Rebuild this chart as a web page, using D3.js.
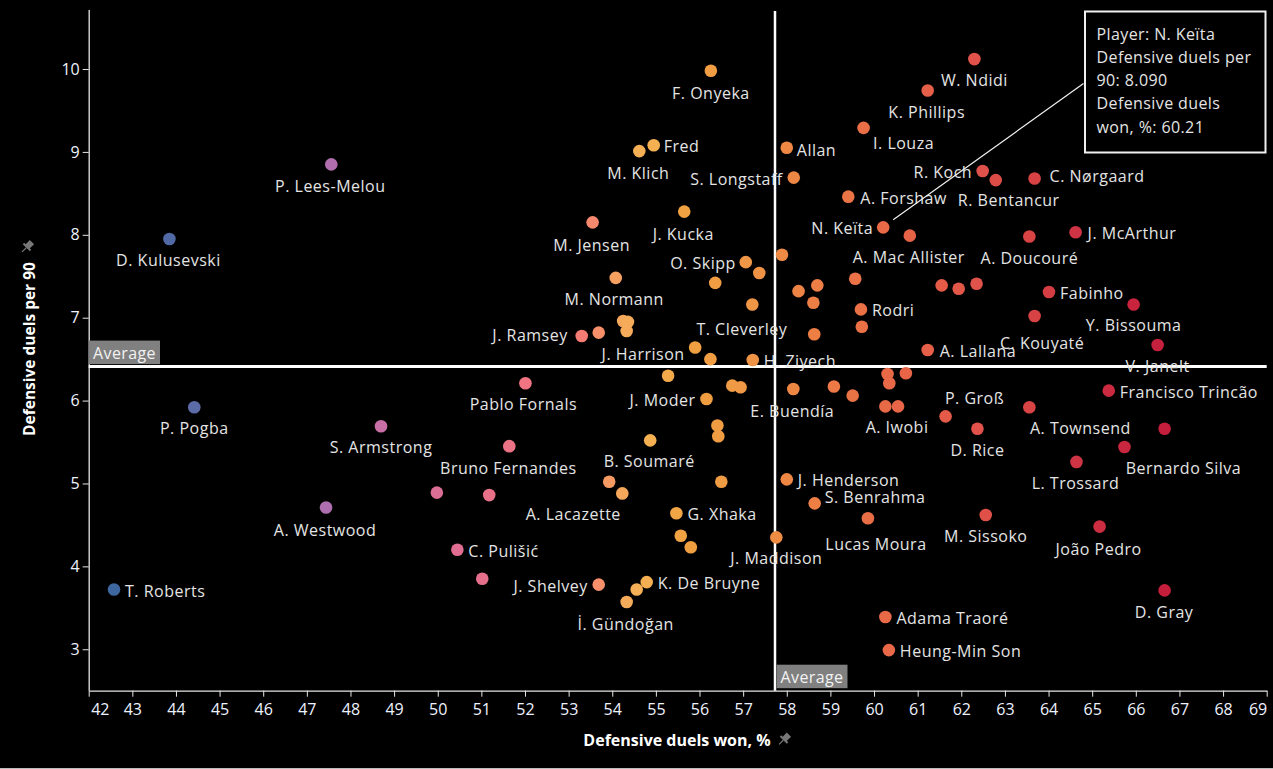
<!DOCTYPE html>
<html>
<head>
<meta charset="utf-8">
<script src="https://cdn.jsdelivr.net/npm/d3@7"></script>
<style>
  html, body { margin: 0; padding: 0; background: #000; }
  svg { display: block; }
</style>
</head>
<body>
<svg id="chart" width="1273" height="769"></svg>
<script>
// ---------------- DATA ----------------
const playerLabels = [
  "D. Kulusevski", "P. Lees-Melou", "P. Pogba", "S. Armstrong", "A. Westwood", "T. Roberts",
  "Pablo Fornals", "", "", "", "J. Moder", "E. Buendía", "", "", "", "",
  "B. Soumaré", "Bruno Fernandes", "", "A. Lacazette", "", "J. Henderson", "S. Benrahma", "", "",
  "G. Xhaka", "", "", "J. Maddison", "C. Pulišić", "", "J. Shelvey", "K. De Bruyne", "", "İ. Gündoğan",
  "F. Onyeka", "Fred", "M. Klich", "Allan", "S. Longstaff", "A. Forshaw", "J. Kucka", "M. Jensen",
  "", "O. Skipp", "", "M. Normann", "", "", "", "", "T. Cleverley", "", "", "", "J. Ramsey", "", "",
  "J. Harrison", "", "H. Ziyech",
  "W. Ndidi", "K. Phillips", "I. Louza", "R. Koch", "R. Bentancur", "C. Nørgaard", "N. Keïta",
  "A. Mac Allister", "A. Doucouré", "J. McArthur", "", "", "", "", "Fabinho", "Y. Bissouma", "Rodri", "",
  "C. Kouyaté", "A. Lallana", "V. Janelt", "", "", "", "", "A. Iwobi", "P. Groß", "D. Rice", "A. Townsend",
  "Francisco Trincão", "", "Bernardo Silva", "L. Trossard", "Lucas Moura", "M. Sissoko", "João Pedro",
  "D. Gray", "Adama Traoré", "Heung-Min Son"
];
const duelsWonPct = [
  43.85, 47.56, 44.42, 48.70, 47.44, 42.58,
  52.01, 55.28, 56.75, 56.94, 56.16, 58.15, 59.08, 59.51, 56.41, 56.43,
  54.87, 51.64, 53.93, 54.23, 56.50, 58.00, 58.64, 49.98, 51.18,
  55.47, 55.57, 55.80, 57.76, 50.45, 51.02, 53.69, 54.79, 54.56, 54.33,
  56.26, 54.95, 54.62, 58.00, 58.16, 59.41, 55.65, 53.55,
  57.89, 57.06, 57.37, 54.08, 56.36, 58.70, 58.27, 58.61, 57.21, 54.25, 54.36, 54.33, 53.30, 53.69, 58.63,
  55.90, 56.25, 57.22,
  62.30, 61.23, 59.76, 62.49, 62.79, 63.68, 60.21,
  60.82, 63.56, 64.62, 59.57, 61.55, 61.94, 62.35, 64.01, 65.95, 59.70, 59.72,
  63.68, 61.23, 66.50, 60.31, 60.73, 60.35, 60.26, 60.55, 61.64, 62.37, 63.56,
  65.38, 66.66, 65.74, 64.64, 59.86, 62.56, 65.17,
  66.66, 60.26, 60.34
];
const duelsPer90 = [
  7.95, 8.85, 5.92, 5.69, 4.71, 3.72,
  6.21, 6.30, 6.18, 6.16, 6.02, 6.14, 6.17, 6.06, 5.70, 5.57,
  5.52, 5.45, 5.02, 4.88, 5.02, 5.05, 4.76, 4.89, 4.86,
  4.64, 4.37, 4.23, 4.35, 4.20, 3.85, 3.78, 3.81, 3.72, 3.57,
  9.98, 9.08, 9.01, 9.05, 8.69, 8.46, 8.28, 8.15,
  7.76, 7.67, 7.54, 7.48, 7.42, 7.39, 7.32, 7.18, 7.16, 6.96, 6.95, 6.84, 6.78, 6.82, 6.80,
  6.64, 6.50, 6.49,
  10.12, 9.74, 9.29, 8.77, 8.66, 8.68, 8.090,
  7.99, 7.98, 8.03, 7.47, 7.39, 7.35, 7.41, 7.31, 7.16, 7.10, 6.89,
  7.02, 6.61, 6.67, 6.32, 6.33, 6.21, 5.93, 5.93, 5.81, 5.66, 5.92,
  6.12, 5.66, 5.44, 5.26, 4.58, 4.62, 4.48,
  3.71, 3.39, 2.99
];
const xTicks = [42,43,44,45,46,47,48,49,50,51,52,53,54,55,56,57,58,59,60,61,62,63,64,65,66,67,68,69];
const yTicks = [3,4,5,6,7,8,9,10];
const avgDuelsWon = 57.73;
const avgDuelsPer90 = 6.41;
const highlighted = "N. Keïta";
const xTitle = "Defensive duels won, %";
const yTitle = "Defensive duels per 90";
const avgText = "Average";

// colour stops (by defensive duels won %)
const colorStops = [42.5, 44.5, 47.5, 48.7, 50.4, 52.0, 53.3, 53.7, 54.4, 55.0, 55.7, 57.0, 58.0, 59.0, 60.0, 61.3, 62.4, 63.6, 64.6, 65.9, 66.7];
const colorValues = ["#3d67a0", "#5b6ba8", "#b06eb0", "#c870a6", "#e06e90", "#f07482", "#f47c74", "#f7906a", "#f5ae58", "#f5b050", "#f0a040", "#ef9846", "#ee8844", "#ec7a46", "#e96c46", "#e65e48", "#e0524a", "#d84444", "#cf3444", "#c8243e", "#c41e3c"];

// label placement relative to each point: [anchor, dx, dy]
const labelPlacement = {
  "D. Kulusevski": ["m", -1, 21], "P. Lees-Melou": ["m", -1, 22], "P. Pogba": ["m", 0, 21],
  "S. Armstrong": ["m", 0, 21], "A. Westwood": ["m", -1, 22], "T. Roberts": ["s", 11, 1],
  "Pablo Fornals": ["m", -2, 21], "J. Moder": ["e", -11, 1], "E. Buendía": ["m", -1, 22],
  "B. Soumaré": ["m", -1, 21], "Bruno Fernandes": ["m", -1, 22], "A. Lacazette": ["m", -49, 21],
  "J. Henderson": ["s", 11, 1], "S. Benrahma": ["s", 10, -6], "G. Xhaka": ["s", 11, 1],
  "J. Maddison": ["m", 0, 21], "C. Pulišić": ["s", 11, 1], "J. Shelvey": ["e", -11, 1],
  "K. De Bruyne": ["s", 11, 1], "İ. Gündoğan": ["m", -1, 22], "F. Onyeka": ["m", 0, 22],
  "Fred": ["s", 10, 1], "M. Klich": ["m", -1, 21.5], "Allan": ["s", 10, 2],
  "S. Longstaff": ["e", -11, 1], "A. Forshaw": ["s", 12, 1], "J. Kucka": ["m", -1, 22],
  "M. Jensen": ["m", -1, 22.5], "O. Skipp": ["e", -10, 1], "M. Normann": ["m", -1.5, 21.5],
  "T. Cleverley": ["m", -10.5, 25], "J. Ramsey": ["e", -14, -1], "J. Harrison": ["e", -10.5, 6],
  "H. Ziyech": ["s", 11, 1], "W. Ndidi": ["m", 0, 21], "K. Phillips": ["m", -1, 21],
  "I. Louza": ["m", 40, 15.5], "R. Koch": ["e", -10.5, 1], "R. Bentancur": ["m", 13, 20],
  "C. Nørgaard": ["s", 15, -2], "N. Keïta": ["e", -10, 1], "A. Mac Allister": ["m", -1, 21],
  "A. Doucouré": ["m", 0, 22], "J. McArthur": ["s", 12, 1], "Fabinho": ["s", 11, 1],
  "Y. Bissouma": ["m", 0, 21], "Rodri": ["s", 11, 1], "C. Kouyaté": ["m", 7.5, 27],
  "A. Lallana": ["s", 12, 0.5], "V. Janelt": ["m", 0, 21], "A. Iwobi": ["m", -1, 21],
  "P. Groß": ["m", 29, -18.5], "D. Rice": ["m", 0, 21], "A. Townsend": ["m", 51, 21],
  "Francisco Trincão": ["s", 11, 1], "Bernardo Silva": ["m", 59, 21], "L. Trossard": ["m", -1, 21],
  "Lucas Moura": ["m", 8, 26], "M. Sissoko": ["m", 0, 21], "João Pedro": ["m", -1, 22],
  "D. Gray": ["m", -0.5, 21.5], "Adama Traoré": ["s", 11, 1], "Heung-Min Son": ["s", 11, 1]
};

// ---------------- CHART ----------------
const W = 1273, H = 769;
const FONT = "'Open Sans', 'Noto Sans', sans-serif";
const svg = d3.select("#chart");
svg.append("rect").attr("width", W).attr("height", H).attr("fill", "#000");

const x = d3.scaleLinear().domain([42, 69]).range([88.7, 1266.7]);
const y = d3.scaleLinear().domain([2.5, 10.7]).range([690.7, 11]);
const color = d3.scaleLinear().domain(colorStops).range(colorValues).clamp(true);

const data = playerLabels.map((name, i) => ({ name, won: duelsWonPct[i], per90: duelsPer90[i] }));

// axes
const gx = svg.append("g").attr("transform", `translate(0,${y(2.5)})`)
  .call(d3.axisBottom(x).tickValues(xTicks).tickSize(6).tickSizeOuter(0).tickPadding(7).tickFormat(d3.format("d")));
const gy = svg.append("g").attr("transform", `translate(${x(42)},0)`)
  .call(d3.axisLeft(y).tickValues(yTicks).tickSize(6).tickSizeOuter(0).tickPadding(3).tickFormat(d3.format("d")));
[gx, gy].forEach(g => {
  g.select(".domain").attr("stroke", "#e6e6e6").attr("stroke-width", 1.3);
  g.selectAll(".tick line").attr("stroke", "#e6e6e6");
  g.selectAll(".tick text").attr("fill", "#eef2ff").style("font-family", FONT).style("font-size", "16px");
});
gy.select(".domain").attr("d", `M0.5,${y(10.7) - 1}V${y(2.5)}`);
gx.selectAll(".tick text").filter(d => d === 42).attr("text-anchor", "start").attr("x", 2);
gx.selectAll(".tick text").filter(d => d === 69).attr("text-anchor", "end").attr("x", 0);

// average lines
svg.append("line")
  .attr("x1", x(42)).attr("x2", x(69)).attr("y1", y(avgDuelsPer90)).attr("y2", y(avgDuelsPer90))
  .attr("stroke", "#fff").attr("stroke-width", 3);
svg.append("line")
  .attr("x1", x(avgDuelsWon)).attr("x2", x(avgDuelsWon)).attr("y1", y(10.7)).attr("y2", y(2.5))
  .attr("stroke", "#fff").attr("stroke-width", 2.5);

function avgBox(bx, by) {
  const g = svg.append("g").attr("transform", `translate(${bx},${by})`);
  g.append("rect").attr("width", 71).attr("height", 23.5).attr("fill", "#808080");
  g.append("text").attr("x", 35.5).attr("y", 12.5).attr("text-anchor", "middle").attr("dominant-baseline", "central")
    .attr("fill", "#f2f2f2").style("font-family", FONT).style("font-size", "16px").style("letter-spacing", "0.4px").text(avgText);
}
avgBox(x(42) + 0.3, y(avgDuelsPer90) - 26);
avgBox(x(avgDuelsWon) + 1.5, y(2.5) - 26);

// points
svg.append("g").selectAll("circle").data(data).join("circle")
  .attr("cx", d => x(d.won)).attr("cy", d => y(d.per90)).attr("r", 6.3)
  .attr("fill", d => color(d.won));

// labels
svg.append("g").selectAll("text").data(data.filter(d => d.name && labelPlacement[d.name])).join("text")
  .each(function(d) {
    const [a, dx, dy] = labelPlacement[d.name];
    d3.select(this)
      .attr("x", x(d.won) + dx).attr("y", y(d.per90) + dy)
      .attr("text-anchor", a === "m" ? "middle" : a === "s" ? "start" : "end");
  })
  .attr("dominant-baseline", "central")
  .attr("fill", "#e4e4e4").style("font-family", FONT).style("font-size", "16px").style("letter-spacing", "0.5px")
  .text(d => d.name);

// tooltip annotation
const hi = data.find(d => d.name === highlighted);
const tip = { x0: 1085, y0: 11.5, w: 180.5, h: 141 };
svg.append("line")
  .attr("x1", x(hi.won) + 10).attr("y1", y(hi.per90) - 7.5)
  .attr("x2", tip.x0 - 1.5).attr("y2", 83.5)
  .attr("stroke", "#f0f0f0").attr("stroke-width", 1.2);
svg.append("rect").attr("x", tip.x0).attr("y", tip.y0).attr("width", tip.w).attr("height", tip.h)
  .attr("fill", "#000").attr("stroke", "#f0f0f0").attr("stroke-width", 2);
const tipLines = [
  `Player: ${hi.name}`,
  "Defensive duels per",
  `90: ${d3.format(".3f")(hi.per90)}`,
  "Defensive duels",
  `won, %: ${d3.format(".2f")(hi.won)}`
];
svg.append("g").selectAll("text").data(tipLines).join("text")
  .attr("x", 1096.5).attr("y", (d, i) => 33.5 + i * 23.3)
  .attr("dominant-baseline", "central")
  .attr("fill", "#e4e4e4").style("font-family", FONT).style("font-size", "16px").style("letter-spacing", "0.4px")
  .text(d => d);

// axis titles
svg.append("text").attr("x", 677).attr("y", 740).attr("text-anchor", "middle").attr("dominant-baseline", "central")
  .attr("fill", "#fff").style("font-family", FONT).style("font-size", "16px").style("font-weight", "bold")
  .text(xTitle);
svg.append("text").attr("transform", "translate(29,349) rotate(-90)").attr("text-anchor", "middle").attr("dominant-baseline", "central")
  .attr("fill", "#fff").style("font-family", FONT).style("font-size", "15.5px").style("font-weight", "bold")
  .text(yTitle);

// pin icons
function pin(px, py) {
  const g = svg.append("g").attr("transform", `translate(${px},${py}) rotate(45)`).attr("fill", "#777");
  g.append("rect").attr("x", -3).attr("y", -7).attr("width", 6).attr("height", 7);
  g.append("rect").attr("x", -5).attr("y", -1).attr("width", 10).attr("height", 2);
  g.append("rect").attr("x", -0.6).attr("y", 1).attr("width", 1.2).attr("height", 6);
}
pin(784, 739.5);
pin(27, 247);

// bottom frame line
svg.append("line").attr("x1", 0).attr("x2", W).attr("y1", 768.5).attr("y2", 768.5).attr("stroke", "#bdbdbd").attr("stroke-width", 1);
</script>
</body>
</html>
